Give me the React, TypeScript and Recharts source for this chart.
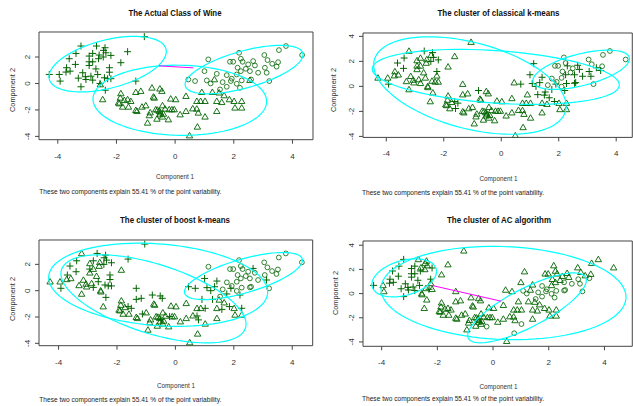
import React from "react"
import { ScatterChart, Scatter, XAxis, YAxis, ReferenceArea } from "recharts"

const FONT = "'Liberation Sans', Arial, sans-serif"
const POINT = "#006400"
const ELLIPSE = "#00ffff"
const LINK = "#ff00ff"

// PCA scores of the wine data, grouped by true cultivar
const classOne: [number, number][] = [
  [-1.05, 3.54], [-3.21, 2.83], [-2.68, 2.83], [-2.39, 2.7], [-2.44, 2.5],
  [-2.36, 2.32], [-3.38, 2.27], [-2.81, 2.27], [-2.59, 2.15], [-2.19, 2.12],
  [-1.62, 2.4], [-2.93, 2.07], [-3.61, 1.87], [-2.61, 1.87], [-2.93, 1.64],
  [-2.81, 1.64], [-3.4, 1.44], [-1.85, 1.57], [-2.93, 1.36], [-2.24, 1.19],
  [-3.7, 1.19], [-3.58, 0.93], [-4.29, 0.68], [-3.95, 0.68], [-3.15, 0.81],
  [-3.06, 0.51], [-2.87, 0.55], [-2.64, 0.68], [-2.41, 0.43], [-2.3, 0.36],
  [-2.19, 0.36], [-3.04, 0.3], [-2.81, 0.25], [-3.92, 0.18], [-1.34, 0.18],
  [-3.21, -0.25], [-2.38, -0.51], [-2.56, 0.0], [-3.72, 0.86], [-2.24, 0.85],
  [-2.7, 1.1], [-3.3, 0.4], [-2.45, 2.0],
]
const classTwo: [number, number][] = [
  [-2.47, -1.21], [-1.85, -0.76], [-1.87, -1.09], [-1.73, -1.27], [-1.62, -1.21],
  [-1.51, -1.34], [-1.9, -1.52], [-1.79, -1.77], [-1.59, -1.77], [-1.34, -2.02],
  [-1.34, -0.66], [-1.17, -0.58], [-0.79, -0.33], [-0.52, -0.4], [-0.45, -0.58],
  [-0.71, -1.09], [-0.15, -1.16], [0.02, -1.21], [-1.0, -1.67], [-0.43, -1.67],
  [-0.66, -1.97], [-0.54, -2.1], [-0.52, -2.35], [-0.62, -2.68], [-0.88, -2.42],
  [-0.94, -2.98], [-0.34, -1.92], [-0.2, -1.97], [-0.03, -1.97], [-0.43, -2.52],
  [0.37, -0.96], [0.91, -0.66], [1.27, -0.66], [1.5, -0.7], [1.67, -0.91],
  [0.74, -1.34], [0.87, -1.34], [1.02, -1.34], [1.42, -1.34], [1.59, -1.42],
  [1.85, -1.21], [2.01, -1.34], [2.27, -1.34], [2.04, -1.84], [2.27, -1.84],
  [-0.11, -1.97], [0.37, -2.1], [0.74, -1.92], [0.79, -2.22], [1.02, -2.52],
  [1.42, -2.1], [0.17, -2.35], [0.76, -3.28], [0.49, -3.94], [1.34, 0.3],
  [2.55, 0.25], [-2.55, -0.08], [-1.93, -1.46], [-1.3, -2.1], [-1.13, -1.77],
  [-0.74, -1.01], [-0.23, -2.73], [-0.5, -2.2], [-0.6, -2.0], [-0.4, -2.3],
  [0.6, -1.9], [-0.85, -2.2],
]
const classThree: [number, number][] = [
  [3.78, 2.83], [4.33, 2.15], [3.54, 2.52], [2.18, 2.32], [3.04, 2.15],
  [1.13, 1.82], [1.87, 1.64], [1.98, 1.64], [2.24, 1.87], [2.3, 1.64],
  [2.49, 1.44], [2.66, 1.69], [2.72, 1.36], [3.15, 1.77], [3.31, 1.49],
  [3.51, 1.61], [3.46, 1.27], [3.06, 1.19], [2.13, 1.19], [2.24, 0.93],
  [2.41, 1.11], [2.55, 0.93], [2.83, 0.81], [3.12, 0.81], [1.0, 0.93],
  [1.42, 0.73], [1.76, 0.63], [2.1, 0.68], [0.45, 0.3], [0.68, 0.18],
  [1.08, 0.23], [1.21, 0.0], [1.62, 0.1], [1.9, 0.18], [2.1, -0.02],
  [2.27, 0.23], [2.59, 0.3], [3.21, 0.18], [1.76, -0.25], [2.21, -0.33],
  [1.53, -0.45], [1.93, 0.36],
]

// cluster given to each point by each method (p = plus, t = triangle, d = circle)
const kmeansOne = "ttpptppttp" + "ttptttpttp" + "tttttttttt" + "tttptttttt" + "ttp"
const kmeansTwo = "ttttppttpt" + "ttpttttttt" + "tttttttttt" + "ttpppttttt" + "pttttttttt" + "ttttpptttt" + "ttttttt"
const kmeansThree = "dddddpdddp" + "dppdpdppdp" + "dpppppddtp" + "ppdpdppdpp" + "pd"
const boostOne = "ptpppppptp" + "ptptptpttp" + "pttttttppp" + "ptppptpttp" + "ttp"
const boostTwo = "ttttpptttt" + "pppppttttt" + "tttttttptt" + "tppttttptp" + "ptpttttppt" + "ttttpdtttp" + "ttptttt"
const boostThree = "dddddddddd" + "dpdddddddd" + "dddpppddpp" + "ppdpddddpp" + "dd"
const acOne = "tpttttpptp" + "tpppppptpp" + "ppptpppptp" + "tppttpttpt" + "ppt"
const acTwo = "tttttttttt" + "tttttttttt" + "tttttttttt" + "tttttttttt" + "tttttttttd" + "ttdttdtttt" + "tdttttt"
const acThree = "tttttttttt" + "ttttttddtt" + "tdddttdttt" + "dddddddddd" + "dd"

type Ell = { cx: number; cy: number; rx: number; ry: number; phi: number }

// cluster ellipses: x = cx + rx cos t, y = cy + ry cos(t - phi)
const actualEllipses: Ell[] = [
  { cx: -2.3, cy: 1.46, rx: 2.0, ry: 2.1, phi: 63 },
  { cx: 0.16, cy: -1.27, rx: 2.96, ry: 2.65, phi: 92 },
  { cx: 2.35, cy: 1.05, rx: 2.01, ry: 1.83, phi: 52 },
]
const kmeansEllipses: Ell[] = [
  { cx: -1.09, cy: 0.07, rx: 3.35, ry: 3.9, phi: 115 },
  { cx: -0.19, cy: 0.76, rx: 4.3, ry: 2.2, phi: 107 },
  { cx: 2.78, cy: 1.33, rx: 1.68, ry: 1.57, phi: 56 },
]
const boostEllipses: Ell[] = [
  { cx: -0.59, cy: 0.45, rx: 3.75, ry: 3.16, phi: 100 },
  { cx: -0.75, cy: -0.62, rx: 3.17, ry: 3.35, phi: 125 },
  { cx: 2.33, cy: 1.11, rx: 2.02, ry: 1.79, phi: 48 },
]
const acEllipses: Ell[] = [
  { cx: -3.19, cy: 1.3, rx: 1.16, ry: 1.57, phi: 70 },
  { cx: 0.375, cy: 0.05, rx: 4.4, ry: 3.86, phi: 95 },
  { cx: 1.22, cy: -1.18, rx: 2.13, ry: 2.89, phi: 38 },
]
const actualLink = [{ x: -0.55, y: 1.33 }, { x: 0.62, y: 1.18 }]
const acLink = [{ x: -2.17, y: 0.66 }, { x: 0.29, y: -0.63 }]

const xTicks = [-4, -2, 0, 2, 4]
const footnote = "These two components explain 55.41 % of the point variability."

type Pt = { x: number; y: number; c: string }

const buildPoints = (one?: string, two?: string, three?: string): Pt[] => [
  ...classOne.map(([x, y], i) => ({ x, y, c: one ? one[i] ?? "p" : "p" })),
  ...classTwo.map(([x, y], i) => ({ x, y, c: two ? two[i] ?? "t" : "t" })),
  ...classThree.map(([x, y], i) => ({ x, y, c: three ? three[i] ?? "d" : "d" })),
]

const ellipsePoints = (e: Ell) => {
  const pts = []
  for (let i = 0; i <= 96; i++) {
    const t = (i / 96) * 2 * Math.PI
    pts.push({
      x: e.cx + e.rx * Math.cos(t),
      y: e.cy + e.ry * Math.cos(t - (e.phi * Math.PI) / 180),
    })
  }
  return pts
}

const PlusShape = (p: any) => (
  <path
    d={`M${p.cx - 3.5},${p.cy}H${p.cx + 3.5}M${p.cx},${p.cy - 3.5}V${p.cy + 3.5}`}
    stroke={POINT}
    strokeWidth={1}
    fill='none'
  />
)
const TriShape = (p: any) => (
  <path
    d={`M${p.cx},${p.cy - 3.2}L${p.cx + 3.2},${p.cy + 2.3}L${p.cx - 3.2},${p.cy + 2.3}Z`}
    stroke={POINT}
    strokeWidth={0.9}
    fill='none'
  />
)
const CircShape = (p: any) => (
  <circle cx={p.cx} cy={p.cy} r={2.4} stroke={POINT} strokeWidth={0.8} fill='none' />
)
const Empty = () => <g />

const XTick = (p: any) => (
  <text x={p.x} y={p.y + 15} textAnchor='middle' fontSize={8} fill='#333' fontFamily={FONT}>
    {p.payload.value}
  </text>
)
const YTick = (p: any) => {
  const bx = p.x - 5.3
  return (
    <text
      x={bx}
      y={p.y}
      transform={`rotate(-90, ${bx}, ${p.y})`}
      textAnchor='middle'
      fontSize={8}
      fill='#333'
      fontFamily={FONT}>
      {p.payload.value}
    </text>
  )
}

type PanelCfg = {
  box: [number, number, number, number]
  xDomain: [number, number]
  yDomain: [number, number]
  yTicks: number[]
  points: Pt[]
  ellipses: Ell[]
  link?: { x: number; y: number }[]
}

const Panel: React.FC<{ cfg: PanelCfg }> = ({ cfg }) => {
  const [l, t, r, b] = cfg.box
  const w = r - l
  const h = b - t
  return (
    <div style={{ position: "absolute", left: l - 30, top: t - 10 }}>
      <ScatterChart
        width={w + 31}
        height={h + 40}
        margin={{ top: 10, right: 1, bottom: 0, left: 0 }}>
        <XAxis
          type='number'
          dataKey='x'
          domain={cfg.xDomain}
          ticks={xTicks}
          interval={0}
          allowDataOverflow
          axisLine={false}
          tickLine={{ stroke: "#444" }}
          tickSize={4}
          tickMargin={0}
          height={30}
          tick={<XTick />}
        />
        <YAxis
          type='number'
          dataKey='y'
          domain={cfg.yDomain}
          ticks={cfg.yTicks}
          interval={0}
          allowDataOverflow
          axisLine={false}
          tickLine={{ stroke: "#444" }}
          tickSize={4}
          tickMargin={0}
          width={30}
          tick={<YTick />}
        />
        <ReferenceArea
          x1={cfg.xDomain[0]}
          x2={cfg.xDomain[1]}
          y1={cfg.yDomain[0]}
          y2={cfg.yDomain[1]}
          fill='none'
          stroke='#444'
          strokeWidth={1}
          ifOverflow='visible'
        />
        <Scatter data={cfg.points.filter((d) => d.c === "p")} shape={PlusShape} isAnimationActive={false} />
        <Scatter data={cfg.points.filter((d) => d.c === "t")} shape={TriShape} isAnimationActive={false} />
        <Scatter data={cfg.points.filter((d) => d.c === "d")} shape={CircShape} isAnimationActive={false} />
        {cfg.ellipses.map((e, i) => (
          <Scatter
            key={i}
            data={ellipsePoints(e)}
            line={{ stroke: ELLIPSE, strokeWidth: 1.2 }}
            shape={Empty}
            isAnimationActive={false}
          />
        ))}
        {cfg.link && (
          <Scatter
            data={cfg.link}
            line={{ stroke: LINK, strokeWidth: 1 }}
            shape={Empty}
            isAnimationActive={false}
          />
        )}
      </ScatterChart>
    </div>
  )
}

const panels: PanelCfg[] = [
  {
    box: [39.3, 32.3, 313.3, 140],
    xDomain: [-4.64, 4.7],
    yDomain: [-4.25, 3.89],
    yTicks: [-4, -2, 0, 2],
    points: buildPoints(),
    ellipses: actualEllipses,
    link: actualLink,
  },
  {
    box: [362.7, 33.3, 632, 137.7],
    xDomain: [-4.81, 4.56],
    yDomain: [-4.08, 4.27],
    yTicks: [-4, -2, 0, 2, 4],
    points: buildPoints(kmeansOne, kmeansTwo, kmeansThree),
    ellipses: kmeansEllipses,
  },
  {
    box: [39.3, 240, 313, 345.7],
    xDomain: [-4.67, 4.7],
    yDomain: [-4.18, 3.85],
    yTicks: [-4, -2, 0, 2],
    points: buildPoints(boostOne, boostTwo, boostThree),
    ellipses: boostEllipses,
  },
  {
    box: [362.7, 240.7, 632, 346],
    xDomain: [-4.67, 5.0],
    yDomain: [-4.36, 4.35],
    yTicks: [-4, -2, 0, 2, 4],
    points: buildPoints(acOne, acTwo, acThree),
    ellipses: acEllipses,
    link: acLink,
  },
]

const titles = [
  { text: "The Actual Class of Wine", x: 175, y: 15.5, len: 93 },
  { text: "The cluster of classical k-means", x: 498.5, y: 15.5, len: 122 },
  { text: "The cluster of boost k-means", x: 175, y: 223, len: 110 },
  { text: "The cluster of AC algorithm", x: 499, y: 223, len: 104 },
]
const xLabels = [
  { x: 175, y: 178.5 },
  { x: 498.5, y: 180.5 },
  { x: 176, y: 388 },
  { x: 498.5, y: 388.5 },
]
const notes = [
  { x: 39.3, y: 193.5 },
  { x: 362, y: 194.5 },
  { x: 39.3, y: 401.5 },
  { x: 362, y: 400.5 },
]
const yLabels = [
  { x: 14.8, y: 90 },
  { x: 335.8, y: 90 },
  { x: 14.8, y: 299 },
  { x: 337.5, y: 293 },
]

export default function App() {
  return (
    <div
      style={{
        position: "absolute",
        left: 0,
        top: 0,
        width: 633,
        height: 406,
        overflow: "hidden",
        background: "#fff",
      }}>
      {panels.map((cfg, i) => (
        <Panel key={i} cfg={cfg} />
      ))}
      <svg
        width={633}
        height={406}
        style={{ position: "absolute", left: 0, top: 0, pointerEvents: "none" }}
        fontFamily={FONT}>
        {titles.map((t, i) => (
          <text
            key={"t" + i}
            x={t.x}
            y={t.y}
            textAnchor='middle'
            fontSize={9.5}
            fontWeight='bold'
            fill='#111'
            textLength={t.len}
            lengthAdjust='spacingAndGlyphs'>
            {t.text}
          </text>
        ))}
        {xLabels.map((t, i) => (
          <text
            key={"x" + i}
            x={t.x}
            y={t.y}
            textAnchor='middle'
            fontSize={8}
            fill='#333'
            textLength={38}
            lengthAdjust='spacingAndGlyphs'>
            Component 1
          </text>
        ))}
        {notes.map((t, i) => (
          <text
            key={"n" + i}
            x={t.x}
            y={t.y}
            fontSize={7.5}
            fill='#222'
            textLength={182}
            lengthAdjust='spacingAndGlyphs'>
            {footnote}
          </text>
        ))}
        {yLabels.map((t, i) => (
          <text
            key={"y" + i}
            x={t.x}
            y={t.y}
            transform={`rotate(-90, ${t.x}, ${t.y})`}
            textAnchor='middle'
            fontSize={8}
            fill='#333'
            textLength={44}
            lengthAdjust='spacingAndGlyphs'>
            Component 2
          </text>
        ))}
      </svg>
    </div>
  )
}
